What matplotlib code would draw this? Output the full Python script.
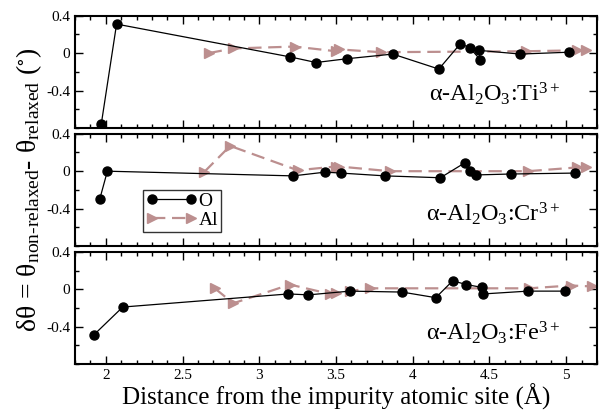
""" angle deviation after relaxation - Ti, Cr, Fe in alumina """

import matplotlib
matplotlib.use('Agg')
import matplotlib.pyplot as plt
from matplotlib.ticker import MultipleLocator


# DATA
# Ti3+ panel
ti_o_x = [1.97, 2.07, 3.20, 3.37, 3.57, 3.87, 4.17, 4.31, 4.37, 4.44, 4.43, 4.70, 5.02]
ti_o_y = [-0.76, 0.31, -0.04, -0.10, -0.06, -0.01, -0.17, 0.10, 0.06, -0.07, 0.03, -0.01, 0.01]
ti_al_x = [2.67, 2.83, 3.23, 3.50, 3.52, 3.79, 4.74, 5.07, 5.13]
ti_al_y = [0.00, 0.05, 0.07, 0.02, 0.04, 0.01, 0.02, 0.03, 0.03]

# Cr3+ panel
cr_o_x = [1.96, 2.01, 3.22, 3.43, 3.53, 3.82, 4.18, 4.34, 4.37, 4.41, 4.64, 5.06]
cr_o_y = [-0.30, 0.00, -0.05, -0.01, -0.02, -0.05, -0.07, 0.09, 0.00, -0.04, -0.03, -0.02]
cr_al_x = [2.64, 2.81, 3.25, 3.50, 3.52, 3.85, 4.75, 5.07, 5.13]
cr_al_y = [-0.01, 0.27, 0.01, 0.05, 0.05, 0.00, 0.00, 0.04, 0.04]

# Fe3+ panel
fe_o_x = [1.92, 2.11, 3.19, 3.32, 3.59, 3.93, 4.15, 4.26, 4.35, 4.45, 4.46, 4.75, 4.99]
fe_o_y = [-0.49, -0.19, -0.05, -0.06, -0.02, -0.03, -0.09, 0.09, 0.05, 0.02, -0.05, -0.02, -0.02]
fe_al_x = [2.71, 2.83, 3.20, 3.46, 3.50, 3.59, 3.72, 4.76, 5.03, 5.17]
fe_al_y = [0.01, -0.15, 0.05, -0.05, -0.04, -0.02, 0.01, 0.01, 0.04, 0.03]

labels = [r'α-Al$_2$O$_3$:Ti$^{3+}$', r'α-Al$_2$O$_3$:Cr$^{3+}$', r'α-Al$_2$O$_3$:Fe$^{3+}$']
label_y = [0.236, 0.218, 0.215]

panels = [(ti_o_x, ti_o_y, ti_al_x, ti_al_y),
          (cr_o_x, cr_o_y, cr_al_x, cr_al_y),
          (fe_o_x, fe_o_y, fe_al_x, fe_al_y)]

plt.rcParams['font.family'] = 'Liberation Serif'
plt.rcParams['mathtext.fontset'] = 'custom'
plt.rcParams['mathtext.rm'] = 'Liberation Serif'
plt.rcParams['mathtext.it'] = 'Liberation Serif'
plt.rcParams['mathtext.default'] = 'regular'

al_color = '#bc8f8f'

fig, axes = plt.subplots(3, 1, figsize=(6.06, 4.12), dpi=100, sharex=True)
fig.subplots_adjust(left=0.124, right=0.985, top=0.962, bottom=0.116, hspace=0.05)

for i, (ax, (ox, oy, ax_, ay)) in enumerate(zip(axes, panels)):
    ax.plot(ax_, ay, color=al_color, lw=1.6, dashes=(6, 3), marker='>',
            ms=7.5, mec=al_color, mfc=al_color, label='Al', zorder=2)
    ax.plot(ox, oy, color='black', lw=0.9, marker='o', ms=6.5,
            label='O', zorder=3)
    ax.set_xlim(1.8, 5.2)
    ax.set_ylim(-0.8, 0.4)
    ax.yaxis.set_major_locator(MultipleLocator(0.4))
    ax.yaxis.set_minor_locator(MultipleLocator(0.2))
    ax.xaxis.set_major_locator(MultipleLocator(0.5))
    ax.xaxis.set_minor_locator(MultipleLocator(0.1))
    ax.set_yticks([-0.4, 0, 0.4], ['-0.4', '0', '0.4'])
    ax.tick_params(which='both', direction='in', top=True, right=True,
                   labelsize=11, width=1)
    ax.tick_params(which='major', length=6)
    ax.tick_params(which='minor', length=3)
    for s in ax.spines.values():
        s.set_linewidth(1.5)
    ax.text(0.93, label_y[i], labels[i], transform=ax.transAxes,
            ha='right', va='baseline', fontsize=17.5)

axes[2].set_xticks([2, 2.5, 3, 3.5, 4, 4.5, 5], ['2', '2.5', '3', '3.5', '4', '4.5', '5'])

# legend in the middle panel, O first
h, l = axes[1].get_legend_handles_labels()
leg = axes[1].legend(h[::-1], l[::-1], loc='lower left', bbox_to_anchor=(0.13, 0.128),
                     numpoints=2, fontsize=14, frameon=True, fancybox=False,
                     handlelength=2.6, handletextpad=0.1, borderpad=0.15,
                     labelspacing=0.05, borderaxespad=0)
leg.get_frame().set_edgecolor('black')
leg.get_frame().set_linewidth(1)

axes[2].set_xlabel('Distance from the impurity atomic site (Å)', fontsize=18, labelpad=1)

fig.text(0.048, 0.539,
         'δθ = θ$_{non\u2010relaxed}$- θ$_{relaxed}$ ($^{\\circ}$)',
         rotation=90, ha='center', va='center', fontsize=20)

fig.savefig('out.png', dpi=100)
